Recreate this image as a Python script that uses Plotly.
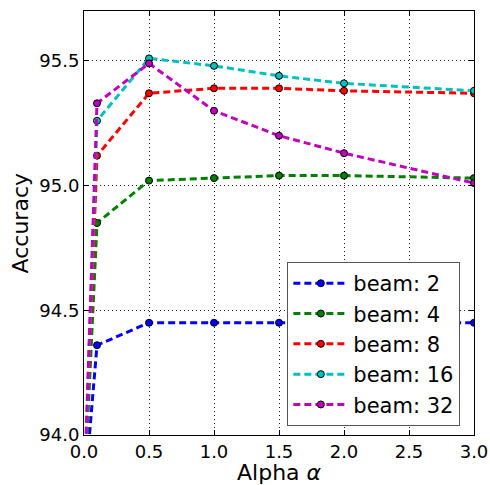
import plotly.graph_objects as go

alpha = [0.0, 0.1, 0.5, 1.0, 1.5, 2.0, 3.0]
beam2 = [93.74, 94.36, 94.45, 94.45, 94.45, 94.45, 94.45]
beam4 = [93.74, 94.85, 95.02, 95.03, 95.04, 95.04, 95.03]
beam8 = [93.74, 95.12, 95.37, 95.39, 95.39, 95.38, 95.37]
beam16 = [93.74, 95.26, 95.51, 95.48, 95.44, 95.41, 95.38]
beam32 = [93.74, 95.33, 95.49, 95.30, 95.20, 95.13, 95.01]
names = ["beam: 2", "beam: 4", "beam: 8", "beam: 16", "beam: 32"]
series = [beam2, beam4, beam8, beam16, beam32]
colors = ["#0000ff", "#008000", "#ff0000", "#00bfbf", "#bf00bf"]

fig = go.Figure()
for name, ys, c in zip(names, series, colors):
    fig.add_trace(go.Scatter(
        x=alpha, y=ys, name=name, mode="lines+markers",
        line=dict(color=c, width=3, dash="7px,4px"),
        marker=dict(symbol="circle", size=7, color=c, line=dict(color="black", width=1)),
    ))

axis_common = dict(
    showline=True, linecolor="black", linewidth=1, mirror="allticks",
    ticks="inside", ticklen=5, tickcolor="black",
    showgrid=True, gridcolor="#222222", griddash="1px,3px", gridwidth=1,
    zeroline=False, automargin=False,
    tickfont=dict(family="DejaVu Sans", size=18, color="black"),
)

fig.update_layout(
    width=490, height=485,
    margin=dict(l=84, r=16, t=11, b=50),
    paper_bgcolor="white", plot_bgcolor="white",
    font=dict(family="DejaVu Sans", color="black"),
    xaxis=dict(range=[0, 3.0], dtick=0.5, tickformat=".1f", **axis_common),
    yaxis=dict(range=[94.0, 95.7], dtick=0.5, tickformat=".1f", **axis_common),
    legend=dict(x=0.965, y=0.021, xanchor="right", yanchor="bottom",
                bgcolor="white", bordercolor="#555555", borderwidth=1,
                font=dict(size=21, family="DejaVu Sans"),
                itemwidth=55, tracegroupgap=0),
    showlegend=True,
    annotations=[
        dict(text="Alpha <i>α</i>", xref="paper", yref="paper", x=0.5, y=-0.054,
             xanchor="center", yanchor="top", showarrow=False,
             font=dict(size=22, family="DejaVu Sans", color="black")),
        dict(text="Accuracy", xref="paper", yref="paper", x=-0.163, y=0.5,
             xanchor="center", yanchor="middle", textangle=-90, showarrow=False,
             font=dict(size=22, family="DejaVu Sans", color="black")),
    ],
)

fig.write_html(
    "out.html",
    config={"displayModeBar": False},
    post_script="document.body.style.margin='0';document.body.style.overflow='hidden';",
)
